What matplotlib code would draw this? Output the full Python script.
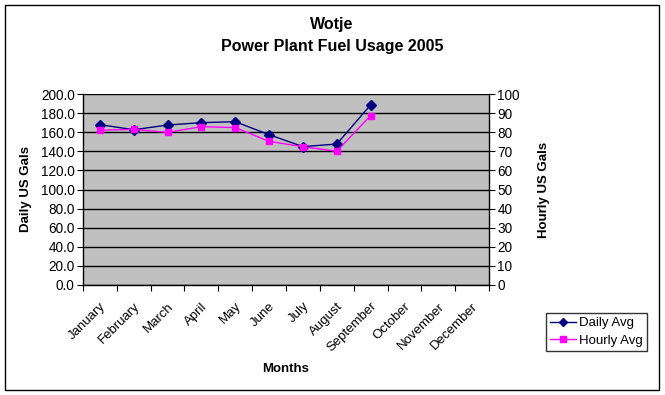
import matplotlib
matplotlib.use("Agg")
import matplotlib.pyplot as plt
from matplotlib.patches import Rectangle
import numpy as np

plt.rcParams['font.family'] = ['Liberation Sans', 'DejaVu Sans']

months = ["January", "February", "March", "April", "May", "June", "July",
          "August", "September", "October", "November", "December"]
daily_avg = [167.9, 162.6, 167.5, 170.0, 171.0, 157.4, 144.9, 147.6, 188.5]
hourly_avg = [81.0, 81.5, 79.9, 82.9, 82.4, 75.2, 72.4, 70.0, 88.7]
left_ticks = np.arange(0, 201, 20)
right_ticks = np.arange(0, 101, 10)

W, H = 665, 395
fig = plt.figure(figsize=(W / 100, H / 100), dpi=100)
fig.patch.set_facecolor('white')
fig.patches.append(Rectangle((5 / W, 1 - 390 / H), 654 / W, 385 / H,
                             transform=fig.transFigure, fill=False,
                             edgecolor='black', linewidth=1.0))

ax = fig.add_axes([83 / W, 1 - 285 / H, 406 / W, 191 / H])
ax.set_facecolor('#c0c0c0')
x = np.arange(len(daily_avg))
ax.set_xlim(-0.5, 11.5)
ax.set_ylim(0, 200)
ax.set_yticks(left_ticks)
ax.set_yticklabels([f"{v:.1f}" for v in left_ticks], fontsize=9.8)
ax.yaxis.grid(True, color='black', linewidth=1.0)
ax.set_axisbelow(True)
ax.set_xticks(np.arange(-0.5, 12, 1.0))
ax.set_xticklabels([])
ax.set_xticks(np.arange(12), minor=True)
ax.set_xticklabels(months, minor=True, rotation=45, ha='right',
                   rotation_mode='anchor', fontsize=9.5)
ax.tick_params(axis='x', which='minor', length=0, pad=11)
ax.tick_params(axis='x', which='major', length=4, direction='out')
ax.tick_params(axis='y', length=4, direction='out', pad=2)
for s in ['top', 'right']:
    ax.spines[s].set_visible(False)
ax.spines['left'].set_linewidth(1.0)
ax.spines['bottom'].set_linewidth(1.0)

l1, = ax.plot(x, daily_avg, color='#000080', marker='D', markersize=5,
              linewidth=1.0, label='Daily Avg')

ax2 = ax.twinx()
ax2.set_ylim(0, 100)
ax2.set_yticks(right_ticks)
ax2.set_yticklabels([str(v) for v in right_ticks], fontsize=9.8)
ax2.tick_params(axis='y', length=4, direction='out', pad=2)
for s in ['top', 'left', 'bottom']:
    ax2.spines[s].set_visible(False)
ax2.spines['right'].set_linewidth(1.0)
l2, = ax2.plot(x, hourly_avg, color='#ff00ff', marker='s', markersize=5,
               linewidth=1.0, label='Hourly Avg')

ax.set_ylabel('Daily US Gals', fontsize=9.5, fontweight='bold', labelpad=6)
ax2.set_ylabel('Hourly US Gals', fontsize=9.5, fontweight='bold', labelpad=13)
ax.set_xlabel('Months', fontsize=9.5, fontweight='bold', labelpad=6)

fig.text(332 / W, 1 - 24 / H, 'Wotje', ha='center', va='center',
         fontsize=11.5, fontweight='bold')
fig.text(332 / W, 1 - 47 / H, 'Power Plant Fuel Usage 2005', ha='center',
         va='center', fontsize=11.5, fontweight='bold')

leg = fig.legend([l1, l2], ['Daily Avg', 'Hourly Avg'], loc='upper left',
                 bbox_to_anchor=(546 / W, 1 - 313 / H), fontsize=9.5,
                 frameon=True, fancybox=False, edgecolor='black',
                 borderpad=0.3, handlelength=2.0, handletextpad=0.2,
                 labelspacing=0.4, borderaxespad=0)
leg.get_frame().set_linewidth(1.0)
for h in leg.legend_handles:
    h.set_markersize(4)

fig.savefig('out.png', dpi=100)
